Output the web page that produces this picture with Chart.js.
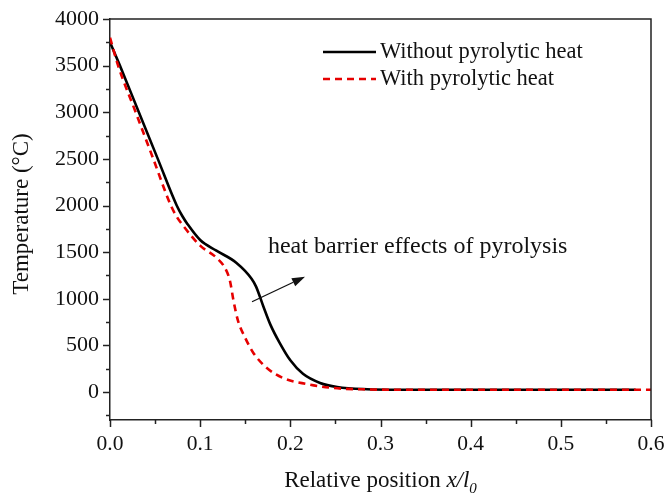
<!DOCTYPE html>
<html>
<head>
<meta charset="utf-8">
<script src="https://cdn.jsdelivr.net/npm/chart.js@4/dist/chart.umd.min.js"></script>
<style>
  html, body { margin: 0; padding: 0; background: #fff; }
  #c { display: block; }
</style>
</head>
<body>
<canvas id="c" width="666" height="496"></canvas>
<script>
// ---- data ----
const seriesNames = ['Without pyrolytic heat', 'With pyrolytic heat'];

const xWithout = [0, 0.011, 0.032, 0.053, 0.074, 0.08, 0.086, 0.1, 0.118, 0.14, 0.157, 0.162, 0.17, 0.178, 0.188, 0.2, 0.214, 0.233, 0.252, 0.285, 0.32, 0.4, 0.5, 0.583];
const tWithout = [3750, 3500, 3000, 2500, 2000, 1890, 1800, 1630, 1516, 1387, 1215, 1130, 920, 720, 530, 340, 195, 97, 54, 30, 25, 25, 25, 25];

const xWith = [0, 0.009, 0.0285, 0.048, 0.0675, 0.074, 0.081, 0.1, 0.118, 0.128, 0.133, 0.137, 0.142, 0.15, 0.159, 0.174, 0.192, 0.218, 0.248, 0.285, 0.32, 0.4, 0.5, 0.6];
const tWith = [3800, 3500, 3000, 2500, 2000, 1880, 1785, 1570, 1441, 1322, 1194, 978, 763, 580, 419, 258, 150, 86, 43, 28, 25, 25, 25, 25];

const xTickValues = [0, 0.1, 0.2, 0.3, 0.4, 0.5, 0.6];
const xTickLabels = ['0.0', '0.1', '0.2', '0.3', '0.4', '0.5', '0.6'];
const yTickValues = [0, 500, 1000, 1500, 2000, 2500, 3000, 3500, 4000];
const yTickLabels = ['0', '500', '1000', '1500', '2000', '2500', '3000', '3500', '4000'];

const annotationText = 'heat barrier effects of pyrolysis';
const annotationAt = { x: 0.1752, y: 1556 };
const arrowFrom = { x: 0.1575, y: 968 };
const arrowTo = { x: 0.2163, y: 1237 };

const FONT = '"Liberation Serif", "Times New Roman", serif';

function toPoints(xs, ys) { return xs.map((x, i) => ({ x: x, y: ys[i] })); }

// ---- custom drawing: ticks, axis titles, legend, annotation ----
const decorations = {
  id: 'decorations',
  afterDraw(chart) {
    const ctx = chart.ctx;
    const xs = chart.scales.x, ys = chart.scales.y;
    const area = chart.chartArea;
    ctx.save();
    ctx.strokeStyle = '#222';
    ctx.lineWidth = 1.5;
    // x ticks (major + minor), outward
    for (let k = 0; k <= 12; k++) {
      const v = k * 0.05;
      const major = k % 2 === 0;
      const px = Math.round(xs.getPixelForValue(v)) + 0.5;
      ctx.beginPath();
      ctx.moveTo(px, area.bottom);
      ctx.lineTo(px, area.bottom + (major ? 7 : 4));
      ctx.stroke();
    }
    // y ticks (major + minor), outward
    for (let v = -250; v <= 4000; v += 250) {
      const major = v % 500 === 0;
      const py = Math.round(ys.getPixelForValue(v)) + 0.5;
      ctx.beginPath();
      ctx.moveTo(area.left, py);
      ctx.lineTo(area.left - (major ? 7 : 4), py);
      ctx.stroke();
    }
    // top and right frame
    ctx.beginPath();
    ctx.moveTo(area.left, area.top);
    ctx.lineTo(area.right, area.top);
    ctx.lineTo(area.right, area.bottom);
    ctx.stroke();

    // y axis title
    ctx.fillStyle = '#111';
    ctx.save();
    ctx.translate(22, 214);
    ctx.rotate(-Math.PI / 2);
    ctx.font = '23px ' + FONT;
    ctx.textAlign = 'center';
    ctx.textBaseline = 'middle';
    ctx.fillText('Temperature (°C)', 0, 0);
    ctx.restore();

    // x axis title with italic parts
    const parts = [
      { t: 'Relative position ', f: '23px ' + FONT, dy: 0 },
      { t: 'x/l', f: 'italic 23px ' + FONT, dy: 0 },
      { t: '0', f: 'italic 15px ' + FONT, dy: 6 }
    ];
    let total = 0;
    parts.forEach(p => { ctx.font = p.f; p.w = ctx.measureText(p.t).width; total += p.w; });
    let cx = (area.left + area.right) / 2 - total / 2;
    const by = 487;
    ctx.textAlign = 'left';
    ctx.textBaseline = 'alphabetic';
    parts.forEach(p => { ctx.font = p.f; ctx.fillText(p.t, cx, by + p.dy); cx += p.w; });

    // legend
    const metas = chart.data.datasets;
    const rows = [52, 79];
    metas.forEach((ds, i) => {
      ctx.save();
      ctx.strokeStyle = ds.borderColor;
      ctx.lineWidth = ds.borderWidth;
      ctx.setLineDash(ds.borderDash || []);
      ctx.beginPath();
      ctx.moveTo(323, rows[i]);
      ctx.lineTo(376, rows[i]);
      ctx.stroke();
      ctx.restore();
      ctx.font = '22.5px ' + FONT;
      ctx.textAlign = 'left';
      ctx.textBaseline = 'middle';
      ctx.fillStyle = '#111';
      ctx.fillText(ds.label, 380, rows[i]);
    });

    // annotation text
    ctx.font = '24px ' + FONT;
    ctx.textAlign = 'left';
    ctx.textBaseline = 'middle';
    ctx.fillText(annotationText, xs.getPixelForValue(annotationAt.x), ys.getPixelForValue(annotationAt.y));

    // arrow
    const x0 = xs.getPixelForValue(arrowFrom.x), y0 = ys.getPixelForValue(arrowFrom.y);
    const x1 = xs.getPixelForValue(arrowTo.x), y1 = ys.getPixelForValue(arrowTo.y);
    const ang = Math.atan2(y1 - y0, x1 - x0);
    const hl = 13, hw = 4.5;
    const bx = x1 - hl * Math.cos(ang), byy = y1 - hl * Math.sin(ang);
    ctx.strokeStyle = '#111';
    ctx.lineWidth = 1.3;
    ctx.beginPath();
    ctx.moveTo(x0, y0);
    ctx.lineTo(bx, byy);
    ctx.stroke();
    ctx.fillStyle = '#111';
    ctx.beginPath();
    ctx.moveTo(x1, y1);
    ctx.lineTo(bx + hw * Math.sin(ang), byy - hw * Math.cos(ang));
    ctx.lineTo(bx - hw * Math.sin(ang), byy + hw * Math.cos(ang));
    ctx.closePath();
    ctx.fill();
    ctx.restore();
  }
};

new Chart(document.getElementById('c'), {
  type: 'scatter',
  data: {
    datasets: [
      {
        label: seriesNames[0],
        data: toPoints(xWithout, tWithout),
        showLine: true,
        borderColor: '#000000',
        borderWidth: 2.6,
        pointRadius: 0,
        cubicInterpolationMode: 'monotone',
        order: 2
      },
      {
        label: seriesNames[1],
        data: toPoints(xWith, tWith),
        showLine: true,
        borderColor: '#e60000',
        borderWidth: 2.6,
        borderDash: [7, 5],
        pointRadius: 0,
        cubicInterpolationMode: 'monotone',
        order: 1
      }
    ]
  },
  options: {
    responsive: false,
    devicePixelRatio: 1,
    animation: false,
    layout: { padding: { top: 19, right: 15, left: 0, bottom: 0 } },
    plugins: { legend: { display: false }, tooltip: { enabled: false } },
    scales: {
      x: {
        type: 'linear',
        position: 'bottom',
        min: 0,
        max: 0.6,
        grid: { display: false, drawTicks: false },
        border: { display: true, color: '#222', width: 1.5 },
        afterBuildTicks: s => { s.ticks = xTickValues.map(v => ({ value: v })); },
        afterFit: s => { s.height = 76; s.paddingLeft = 0; s.paddingRight = 0; },
        ticks: {
          padding: 11,
          maxRotation: 0,
          autoSkip: false,
          color: '#111',
          font: { family: FONT, size: 21.5 },
          callback: (v) => { const i = xTickValues.findIndex(t => Math.abs(t - v) < 1e-9); return i >= 0 ? xTickLabels[i] : ''; }
        }
      },
      y: {
        type: 'linear',
        position: 'left',
        min: -300,
        max: 4000,
        grid: { display: false, drawTicks: false },
        border: { display: true, color: '#222', width: 1.5 },
        afterBuildTicks: s => { s.ticks = yTickValues.map(v => ({ value: v })); },
        afterFit: s => { s.width = 110; s.paddingTop = 0; s.paddingBottom = 0; },
        ticks: {
          padding: 11,
          autoSkip: false,
          color: '#111',
          font: { family: FONT, size: 22 },
          callback: (v) => { const i = yTickValues.indexOf(v); return i >= 0 ? yTickLabels[i] : ''; }
        }
      }
    }
  },
  plugins: [decorations]
});
</script>
</body>
</html>
